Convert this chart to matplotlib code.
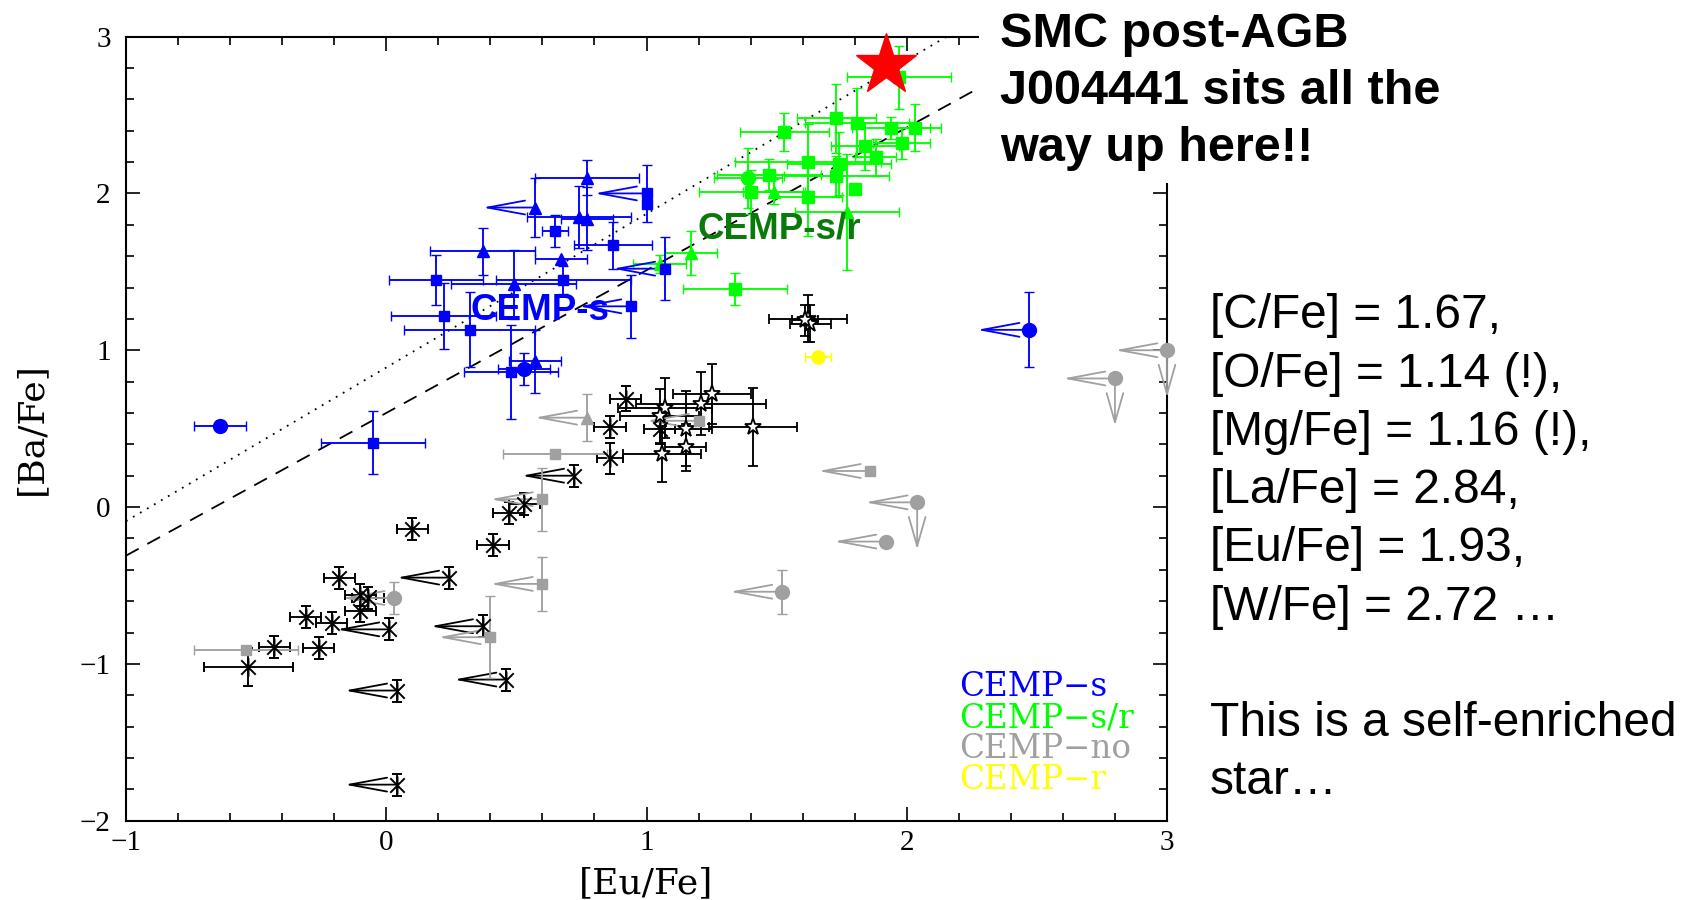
import numpy as np
import matplotlib
matplotlib.use("Agg")
import matplotlib.pyplot as plt
from matplotlib.patches import Rectangle
from matplotlib.path import Path
from matplotlib.ticker import MultipleLocator

# ---------------- data ----------------
# CEMP-s (blue) squares / triangles / circles;  lim: 1 = [Eu/Fe] upper limit, 2 = both limits
s_sq_eu  = [1.00, 1.00, 0.65, 0.87, 0.19, 0.68, 0.22, 0.32, 0.94, 1.07, 0.48, -0.05]
s_sq_ba  = [2.00, 1.93, 1.76, 1.67, 1.45, 1.45, 1.22, 1.13, 1.28, 1.52, 0.86, 0.41]
s_sq_eue = [0, 0, 0.05, 0.15, 0.18, 0.26, 0.20, 0.25, 0, 0, 0.18, 0.20]
s_sq_bae = [0.18, 0, 0.10, 0.15, 0.16, 0.09, 0.21, 0.24, 0.20, 0.20, 0.30, 0.20]
s_sq_lim = [1, 0, 0, 0, 0, 0, 0, 0, 1, 1, 0, 0]

s_tr_eu  = [0.77, 0.57, 0.74, 0.77, 0.37, 0.67, 0.49, 0.57]
s_tr_ba  = [2.10, 1.91, 1.85, 1.84, 1.63, 1.58, 1.42, 0.93]
s_tr_eue = [0.20, 0, 0.20, 0.10, 0.20, 0.10, 0.24, 0.10]
s_tr_bae = [0.11, 0.19, 0.20, 0.20, 0.15, 0, 0.22, 0.20]
s_tr_lim = [0, 1, 0, 0, 0, 0, 0, 0]

s_ci_eu  = [0.53, -0.64, 2.47]
s_ci_ba  = [0.88, 0.52, 1.13]
s_ci_eue = [0.10, 0.10, 0]
s_ci_bae = [0.10, 0.03, 0.24]
s_ci_lim = [0, 0, 1]

# CEMP-s/r (green)
sr_sq_eu  = [1.53, 1.73, 1.81, 1.94, 2.03, 1.98, 1.84, 1.88, 1.62, 1.74, 1.73, 1.47, 1.40, 1.62, 1.80, 1.34, 1.97]
sr_sq_ba  = [2.39, 2.48, 2.45, 2.42, 2.42, 2.32, 2.30, 2.23, 2.20, 2.19, 2.11, 2.12, 2.01, 1.98, 2.03, 1.39, 2.74]
sr_sq_eue = [0.17, 0.15, 0.20, 0.15, 0.10, 0.11, 0.13, 0.08, 0.28, 0.20, 0.20, 0.20, 0.20, 0.13, 0, 0.20, 0.20]
sr_sq_bae = [0.12, 0.22, 0.22, 0.07, 0.15, 0.10, 0.15, 0.12, 0.24, 0.20, 0.13, 0.10, 0.14, 0.25, 0, 0.10, 0.20]
sr_sq_lim = [0] * 17

sr_tr_eu  = [1.49, 1.77, 1.17, 1.05]
sr_tr_ba  = [2.01, 1.88, 1.62, 1.55]
sr_tr_eue = [0.12, 0.20, 0.10, 0.10]
sr_tr_bae = [0.08, 0.37, 0.14, 0.06]
sr_tr_lim = [0, 0, 0, 0]

sr_ci_eu  = [1.39]
sr_ci_ba  = [2.10]
sr_ci_eue = [0.13]
sr_ci_bae = [0.19]
sr_ci_lim = [0]

# CEMP-no (grey)
no_sq_eu  = [0.65, 1.20, 0.60, 0.60, 0.40, -0.54, 1.86]
no_sq_ba  = [0.34, 0.55, 0.05, -0.49, -0.83, -0.91, 0.23]
no_sq_eue = [0.20, 0, 0, 0, 0, 0.20, 0]
no_sq_bae = [0, 0, 0.20, 0.17, 0.26, 0, 0]
no_sq_lim = [0, 1, 1, 1, 1, 0, 1]

no_tr_eu  = [0.77]
no_tr_ba  = [0.57]
no_tr_eue = [0]
no_tr_bae = [0.15]
no_tr_lim = [1]

no_ci_eu  = [0.03, 3.00, 2.80, 2.04, 1.92, 1.52]
no_ci_ba  = [-0.58, 1.00, 0.82, 0.03, -0.22, -0.54]
no_ci_eue = [0, 0, 0, 0, 0, 0]
no_ci_bae = [0.10, 0, 0, 0, 0, 0.14]
no_ci_lim = [1, 2, 2, 2, 1, 1]

# CEMP-r (yellow)
r_eu  = [1.66]
r_ba  = [0.96]
r_eue = [0.05]
r_bae = [0.02]
r_lim = [0]

# other stars (black asterisks)
ast_eu  = [0.92, 0.86, 0.86, 0.72, 0.53, 0.47, 0.10, 0.41, 0.24, -0.18, -0.10, -0.07, -0.10,
           0.01, 0.37, -0.31, -0.21, -0.43, -0.26, -0.53, 0.04, 0.46, 0.04, 1.05]
ast_ba  = [0.69, 0.51, 0.31, 0.20, 0.02, -0.04, -0.14, -0.24, -0.45, -0.45, -0.56, -0.58, -0.66,
           -0.78, -0.76, -0.70, -0.74, -0.89, -0.90, -1.02, -1.17, -1.10, -1.77, 0.50]
ast_eue = [0.06, 0.06, 0.05, 0, 0.06, 0.06, 0.06, 0.06, 0, 0.06, 0.06, 0.06, 0.06,
           0, 0, 0.06, 0.06, 0.06, 0.06, 0.17, 0, 0, 0, 0.06]
ast_bae = [0.08, 0.07, 0.10, 0.07, 0.07, 0.07, 0.07, 0.07, 0.07, 0.07, 0.07, 0.07, 0.07,
           0.07, 0.07, 0.07, 0.07, 0.07, 0.07, 0.12, 0.07, 0.07, 0.07, 0.10]
ast_lim = [0, 0, 0, 1, 0, 0, 0, 0, 1, 0, 0, 0, 0,
           1, 1, 0, 0, 0, 0, 0, 1, 1, 1, 0]

# other stars (black open stars)
st_eu  = [1.25, 1.21, 1.07, 1.05, 1.15, 1.41, 1.15, 1.06, 1.62, 1.63, 1.61]
st_ba  = [0.72, 0.66, 0.63, 0.58, 0.50, 0.51, 0.38, 0.34, 1.20, 1.17, 1.19]
st_eue = [0.15, 0.25, 0.18, 0.15, 0.10, 0.17, 0.08, 0.15, 0.15, 0.08, 0.05]
st_bae = [0.19, 0.20, 0.19, 0.17, 0.24, 0.25, 0.15, 0.18, 0.15, 0.12, 0.10]
st_lim = [0] * 11

# SMC post-AGB star J004441
smc_eu = 1.92
smc_ba = 2.82

# fitted lines (slope, intercept)
dot_fit = (0.98, 0.89)
dash_fit = (0.91, 0.60)

legend_labels = ["CEMP\u2212s", "CEMP\u2212s/r", "CEMP\u2212no", "CEMP\u2212r"]
head_lines = ["SMC post-AGB", "J004441 sits all the", "way up here!!"]
info_lines = ["[C/Fe] = 1.67,", "[O/Fe] = 1.14 (!),", "[Mg/Fe] = 1.16 (!),", "[La/Fe] = 2.84,",
              "[Eu/Fe] = 1.93,", "[W/Fe] = 2.72 \u2026", "", "This is a self-enriched", "star\u2026"]

BLUE, GREEN, GREY, YELLOW = "#0000ff", "#00ff00", "#a0a0a0", "#ffff00"

plt.rcParams['font.family'] = ['Liberation Serif', 'DejaVu Serif']

fig = plt.figure(figsize=(16.89, 9), dpi=100)
ax = fig.add_axes([126 / 1689, 1 - 820.7 / 900, 1041 / 1689, 784.1 / 900])

# asterisk marker: vertical bar + X
ast_marker = Path([(0, -1), (0, 1), (-0.8, -0.8), (0.8, 0.8), (-0.8, 0.8), (0.8, -0.8)],
                  [Path.MOVETO, Path.LINETO, Path.MOVETO, Path.LINETO, Path.MOVETO, Path.LINETO])


def arrow(x0, y0, x1, y1, color, style):
    ax.annotate('', xy=(x1, y1), xytext=(x0, y0), annotation_clip=False,
                arrowprops=dict(arrowstyle=style, color=color,
                                lw=1.3, shrinkA=0, shrinkB=0, mutation_scale=10))


def plot_group(eu, ba, eue, bae, lim, color, marker, ms, mfc=None, mec=None, mew=1.0):
    for x, y, xe, ye, l in zip(eu, ba, eue, bae, lim):
        if l >= 1:
            arrow(x, y, x - 0.2, y, color, '->,head_length=2.7,head_width=0.5')
        if l == 2:
            arrow(x, y, x, y - 0.3, color, '->,head_length=2.1,head_width=0.6')
        ax.errorbar(x, y, xerr=xe if xe > 0 else None, yerr=ye if ye > 0 else None,
                    fmt='', marker=marker, linestyle='none', color=color, ms=ms,
                    mfc=mfc or color, mec=mec or color, mew=mew,
                    ecolor=color, elinewidth=1.35, capsize=3.6, capthick=1.35, clip_on=False, zorder=3)


# reference lines
xl = np.array([-1.0, 3.0])
ax.plot(xl, dot_fit[0] * xl + dot_fit[1], color='black', lw=1.3, ls=(0, (1, 3.5)), zorder=1)
ax.plot(xl, dash_fit[0] * xl + dash_fit[1], color='black', lw=1.3, ls=(0, (8, 5.5)), zorder=1)

plot_group(st_eu, st_ba, st_eue, st_bae, st_lim, 'black', '*', 12.5, mfc='white', mew=1.3)
plot_group(ast_eu, ast_ba, ast_eue, ast_bae, ast_lim, 'black', ast_marker, 13, mew=1.4)
plot_group(no_sq_eu, no_sq_ba, no_sq_eue, no_sq_bae, no_sq_lim, GREY, 's', 7.5)
plot_group(no_tr_eu, no_tr_ba, no_tr_eue, no_tr_bae, no_tr_lim, GREY, '^', 8)
plot_group(no_ci_eu, no_ci_ba, no_ci_eue, no_ci_bae, no_ci_lim, GREY, 'o', 10)
plot_group(r_eu, r_ba, r_eue, r_bae, r_lim, YELLOW, 'o', 9.5)
plot_group(sr_sq_eu, sr_sq_ba, sr_sq_eue, sr_sq_bae, sr_sq_lim, GREEN, 's', 8)
plot_group(sr_tr_eu, sr_tr_ba, sr_tr_eue, sr_tr_bae, sr_tr_lim, GREEN, '^', 8)
plot_group(sr_ci_eu, sr_ci_ba, sr_ci_eue, sr_ci_bae, sr_ci_lim, GREEN, 'o', 10)
plot_group(s_sq_eu, s_sq_ba, s_sq_eue, s_sq_bae, s_sq_lim, BLUE, 's', 7.5)
plot_group(s_tr_eu, s_tr_ba, s_tr_eue, s_tr_bae, s_tr_lim, BLUE, '^', 8)
plot_group(s_ci_eu, s_ci_ba, s_ci_eue, s_ci_bae, s_ci_lim, BLUE, 'o', 10)

ax.plot(smc_eu, smc_ba, marker='*', color='#ff0000', ms=46, mec='#ff0000', clip_on=False, zorder=5)

# group labels inside the plot
ax.text(0.59, 1.19, "CEMP-s", color=BLUE, fontsize=26.5, fontweight='bold',
        family='Liberation Sans', ha='center', va='baseline', zorder=6)
ax.text(1.51, 1.71, "CEMP-s/r", color='#0a7a0a', fontsize=26.5, fontweight='bold',
        family='Liberation Sans', ha='center', va='baseline', zorder=6)

for i, (lab, col) in enumerate(zip(legend_labels, [BLUE, GREEN, GREY, YELLOW])):
    ax.text(2.2, -1.205 - 0.198 * i, lab, color=col, fontsize=23.5, family='DejaVu Serif',
            fontweight='light', ha='left', va='baseline')

ax.set_xlim(-1, 3)
ax.set_ylim(-2, 3)
ax.xaxis.set_major_locator(MultipleLocator(1))
ax.xaxis.set_minor_locator(MultipleLocator(0.2))
ax.yaxis.set_major_locator(MultipleLocator(1))
ax.yaxis.set_minor_locator(MultipleLocator(0.2))
ax.tick_params(which='both', direction='in', top=True, right=True, width=1.2, labelsize=21)
ax.tick_params(which='major', length=10)
ax.tick_params(which='minor', length=5.5)
ax.tick_params(axis='x', pad=7)
ax.tick_params(axis='y', pad=11)
for sp in ax.spines.values():
    sp.set_linewidth(1.5)

ax.set_xlabel("[Eu/Fe]", fontsize=26, family='DejaVu Serif', fontweight='light')
ax.set_ylabel("[Ba/Fe]", fontsize=26, family='DejaVu Serif', fontweight='light')
ax.xaxis.set_label_coords(0.5, -0.058)
ax.yaxis.set_label_coords(-0.075, 0.5)

# white box behind the headline, covering the top-right corner of the frame
fig.add_artist(Rectangle((979 / 1689, 1 - 182.7 / 900), 1, 1, transform=fig.transFigure,
                         facecolor='white', edgecolor='none', zorder=1))

for i, t in enumerate(head_lines):
    fig.text(1000 / 1689, 1 - (47 + 57 * i) / 900, t, fontsize=35, fontweight='bold',
             family='Liberation Sans', ha='left', va='baseline', zorder=3)

for i, t in enumerate(info_lines):
    if t:
        fig.text(1210 / 1689, 1 - (328.5 + 58.2 * i) / 900, t, fontsize=34.5,
                 family='Liberation Sans', ha='left', va='baseline', zorder=3)

fig.savefig("out.png", dpi=100)
